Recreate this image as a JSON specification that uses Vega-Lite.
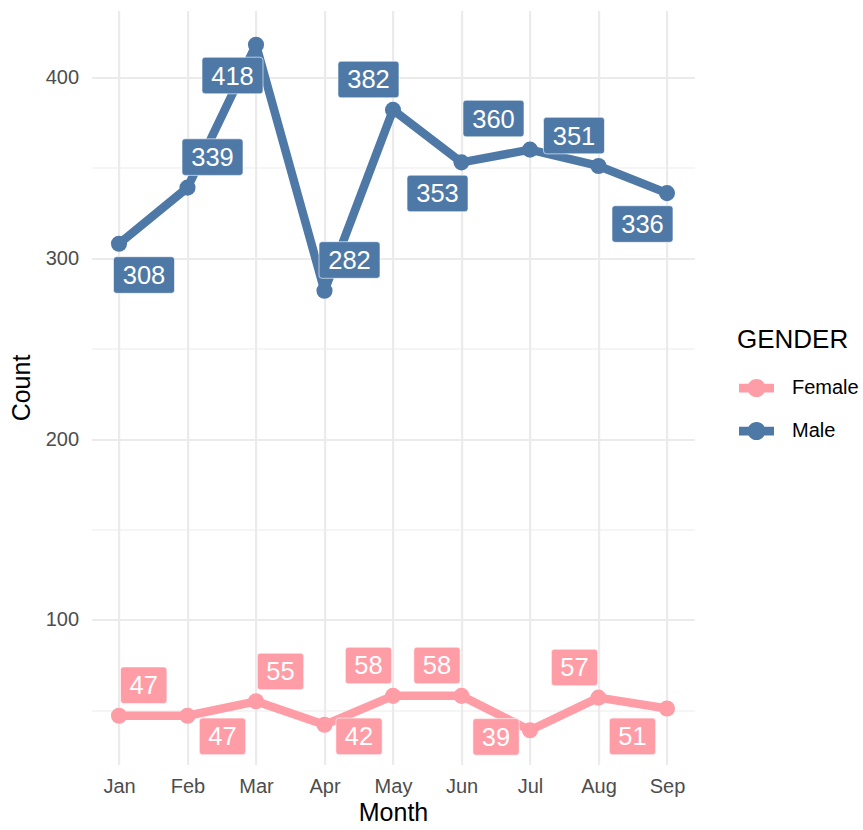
{
  "$schema": "https://vega.github.io/schema/vega-lite/v6.json",
  "autosize": "none",
  "width": 602.8,
  "height": 754,
  "padding": {"left": 91.6, "top": 10.5, "right": 168.6, "bottom": 65.5},
  "background": "white",
  "config": {
    "view": {"stroke": null},
    "font": "Liberation Sans",
    "axis": {"labelFont": "Liberation Sans", "titleFont": "Liberation Sans"},
    "legend": {"labelFont": "Liberation Sans", "titleFont": "Liberation Sans"}
  },
  "data": {
    "values": [
      {"month": 1, "GENDER": "Female", "Count": 47, "label_x": 1.361, "label_y": 63.9},
      {"month": 2, "GENDER": "Female", "Count": 47, "label_x": 2.511, "label_y": 35.6},
      {"month": 3, "GENDER": "Female", "Count": 55, "label_x": 3.358, "label_y": 71.5},
      {"month": 4, "GENDER": "Female", "Count": 42, "label_x": 4.504, "label_y": 35.6},
      {"month": 5, "GENDER": "Female", "Count": 58, "label_x": 4.642, "label_y": 74.8},
      {"month": 6, "GENDER": "Female", "Count": 58, "label_x": 5.642, "label_y": 74.8},
      {"month": 7, "GENDER": "Female", "Count": 39, "label_x": 6.504, "label_y": 35.3},
      {"month": 8, "GENDER": "Female", "Count": 57, "label_x": 7.650, "label_y": 73.7},
      {"month": 9, "GENDER": "Female", "Count": 51, "label_x": 8.496, "label_y": 35.6},
      {"month": 1, "GENDER": "Male", "Count": 308, "label_x": 1.365, "label_y": 290.7},
      {"month": 2, "GENDER": "Male", "Count": 339, "label_x": 2.365, "label_y": 355.9},
      {"month": 3, "GENDER": "Male", "Count": 418, "label_x": 2.657, "label_y": 401.0},
      {"month": 4, "GENDER": "Male", "Count": 282, "label_x": 4.365, "label_y": 299.0},
      {"month": 5, "GENDER": "Male", "Count": 382, "label_x": 4.642, "label_y": 398.8},
      {"month": 6, "GENDER": "Male", "Count": 353, "label_x": 5.650, "label_y": 335.8},
      {"month": 7, "GENDER": "Male", "Count": 360, "label_x": 6.467, "label_y": 377.2},
      {"month": 8, "GENDER": "Male", "Count": 351, "label_x": 7.642, "label_y": 367.8},
      {"month": 9, "GENDER": "Male", "Count": 336, "label_x": 8.642, "label_y": 318.9}
    ]
  },
  "layer": [
    {
      "mark": {"type": "line", "strokeWidth": 8.5, "strokeCap": "butt", "strokeJoin": "round"},
      "encoding": {
        "x": {
          "field": "month", "type": "quantitative",
          "scale": {"domain": [0.6, 9.4], "nice": false, "zero": false},
          "axis": {
            "title": "Month",
            "values": [1, 1.5, 2, 2.5, 3, 3.5, 4, 4.5, 5, 5.5, 6, 6.5, 7, 7.5, 8, 8.5, 9],
            "labelExpr": "datum.value % 1 === 0 ? ['Jan','Feb','Mar','Apr','May','Jun','Jul','Aug','Sep'][datum.value - 1] : ''",
            "grid": true,
            "gridColor": "#EBEBEB",
            "gridWidth": {"condition": {"test": "datum.value % 1 === 0", "value": 2.2}, "value": 1.1},
            "ticks": false,
            "domain": false,
            "labelFontSize": 20,
            "labelColor": "#4D4D4D",
            "labelPadding": 12,
            "labelFlush": false,
            "labelOverlap": false,
            "titleFontSize": 25,
            "titleFontWeight": "normal",
            "titleColor": "#000000",
            "titlePadding": 4
          }
        },
        "y": {
          "field": "Count", "type": "quantitative",
          "scale": {"domain": [20.05, 436.95], "nice": false, "zero": false},
          "axis": {
            "title": "Count",
            "values": [50, 100, 150, 200, 250, 300, 350, 400],
            "labelExpr": "datum.value % 100 === 0 ? datum.label : ''",
            "grid": true,
            "gridColor": "#EBEBEB",
            "gridWidth": {"condition": {"test": "datum.value % 100 === 0", "value": 2.2}, "value": 1.1},
            "ticks": false,
            "domain": false,
            "labelFontSize": 20,
            "labelColor": "#4D4D4D",
            "labelPadding": 13,
            "labelOverlap": false,
            "titleFontSize": 25,
            "titleFontWeight": "normal",
            "titleColor": "#000000",
            "titlePadding": 11
          }
        },
        "color": {
          "field": "GENDER", "type": "nominal",
          "scale": {"domain": ["Female", "Male"], "range": ["#FF9DA7", "#4E79A7"]},
          "legend": {
            "title": "GENDER",
            "orient": "none",
            "legendX": 645.4,
            "legendY": 316,
            "padding": 0,
            "titleFontSize": 26,
            "titleFontWeight": "normal",
            "titleColor": "#000000",
            "titlePadding": 18,
            "labelFontSize": 20,
            "labelColor": "#000000",
            "labelOffset": 18,
            "rowPadding": 15,
            "symbolSize": 1225,
            "symbolOffset": 2,
            "symbolType": "M-1,-0.25 L1,-0.25 L1,0.25 L-1,0.25 Z M-0.52,0 A0.52,0.52 0 1,1 0.52,0 A0.52,0.52 0 1,1 -0.52,0 Z",
            "symbolStrokeWidth": 0,
            "encode": {
              "symbols": {
                "update": {
                  "fill": {"scale": "color", "field": "value"},
                  "stroke": {"value": "transparent"},
                  "strokeWidth": {"value": 0},
                  "opacity": {"value": 1}
                }
              }
            }
          }
        },
        "detail": {"field": "GENDER"}
      }
    },
    {
      "mark": {"type": "point", "filled": true, "opacity": 1, "size": 260, "shape": "circle"},
      "encoding": {
        "x": {"field": "month", "type": "quantitative"},
        "y": {"field": "Count", "type": "quantitative"},
        "color": {"field": "GENDER", "type": "nominal"}
      }
    },
    {
      "transform": [{"filter": "datum.GENDER === 'Female'"}],
      "mark": {
        "type": "point", "filled": true, "opacity": 1, "size": 3721,
        "stroke": "white", "strokeWidth": 0.6,
        "shape": "M-0.66,-0.6 L0.66,-0.6 Q0.76,-0.6 0.76,-0.5 L0.76,0.5 Q0.76,0.6 0.66,0.6 L-0.66,0.6 Q-0.76,0.6 -0.76,0.5 L-0.76,-0.5 Q-0.76,-0.6 -0.66,-0.6 Z"
      },
      "encoding": {
        "x": {"field": "label_x", "type": "quantitative"},
        "y": {"field": "label_y", "type": "quantitative"},
        "color": {"field": "GENDER", "type": "nominal"}
      }
    },
    {
      "transform": [{"filter": "datum.GENDER === 'Male'"}],
      "mark": {
        "type": "point", "filled": true, "opacity": 1, "size": 3721,
        "stroke": "white", "strokeWidth": 0.6,
        "shape": "M-0.9,-0.6 L0.9,-0.6 Q1,-0.6 1,-0.5 L1,0.5 Q1,0.6 0.9,0.6 L-0.9,0.6 Q-1,0.6 -1,0.5 L-1,-0.5 Q-1,-0.6 -0.9,-0.6 Z"
      },
      "encoding": {
        "x": {"field": "label_x", "type": "quantitative"},
        "y": {"field": "label_y", "type": "quantitative"},
        "color": {"field": "GENDER", "type": "nominal"}
      }
    },
    {
      "mark": {"type": "text", "color": "white", "fontSize": 25.5, "baseline": "middle", "align": "center", "dy": 1},
      "encoding": {
        "x": {"field": "label_x", "type": "quantitative"},
        "y": {"field": "label_y", "type": "quantitative"},
        "text": {"field": "Count", "type": "quantitative"}
      }
    }
  ]
}
